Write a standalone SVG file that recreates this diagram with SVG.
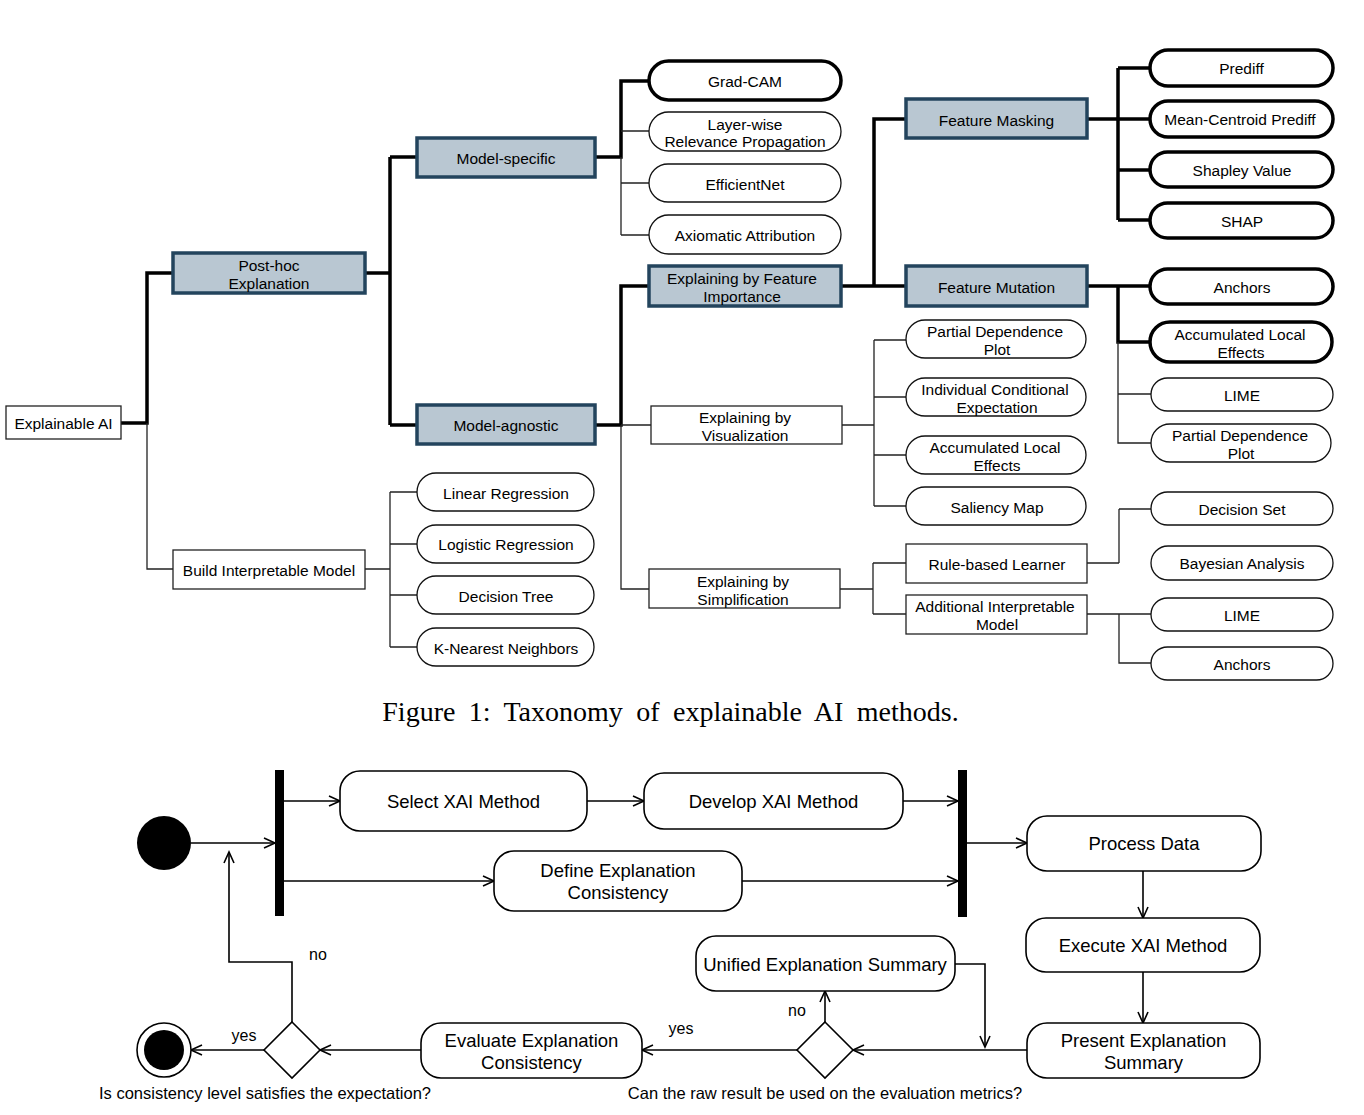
<svg xmlns="http://www.w3.org/2000/svg" width="1364" height="1115" viewBox="0 0 1364 1115">
<style>
text{font-family:"Liberation Sans",Arial,sans-serif;fill:#000;text-anchor:middle;dominant-baseline:central}
.t{font-size:15.5px}
.b{font-size:18.5px}
.l{font-size:16px}
.q{font-size:16.5px}
.box{fill:#fff;stroke:#222;stroke-width:1.3}
.blue{fill:#b9c7d2;stroke:#23445d;stroke-width:3.5}
.pill{fill:#fff;stroke:#111;stroke-width:1.3}
.pillk{fill:#fff;stroke:#000;stroke-width:3.5}
.thick{fill:none;stroke:#000;stroke-width:3.5}
.thin{fill:none;stroke:#222;stroke-width:1.3}
.act{fill:#fff;stroke:#000;stroke-width:1.6}
.flow{fill:none;stroke:#000;stroke-width:1.6;marker-end:url(#arr)}
.cap{font-family:"Liberation Serif","Times New Roman",serif;font-size:28px;word-spacing:6.4px}
</style>
<defs>
<marker id="arr" markerUnits="userSpaceOnUse" markerWidth="14" markerHeight="14" viewBox="0 0 14 14" refX="12" refY="6" orient="auto">
<path d="M1,1 L12,6 L1,11" fill="none" stroke="#000" stroke-width="1.6"/>
</marker>
</defs>

<g id="connectors">
<path class="thick" d="M121,423 H147 V273 H173"/>
<path class="thick" d="M365,273 H390 M390,157 V425 M390,157 H417 M390,425 H417"/>
<path class="thick" d="M595,157 H621 V81 H649"/>
<path class="thick" d="M595,425 H621 V286 H649"/>
<path class="thick" d="M841,286 H874 V119 H906 M874,286 H906"/>
<path class="thick" d="M1087,119 H1118 M1118,68 V220 M1118,68 H1150 M1118,119 H1150 M1118,170 H1150 M1118,220 H1150"/>
<path class="thick" d="M1087,286 H1150 M1118,286 V342 H1150"/>
<path class="thin" d="M147,423 V569 H173"/>
<path class="thin" d="M621,157 V235 M621,131 H649 M621,183 H649 M621,235 H649"/>
<path class="thin" d="M621,425 V589 H649 M621,425 H651"/>
<path class="thin" d="M842,425 H874 M874,340 V506 M874,340 H906 M874,397 H906 M874,455 H906 M874,506 H906"/>
<path class="thin" d="M840,589 H873 M873,563 V614 M873,563 H906 M873,614 H906"/>
<path class="thin" d="M1087,563 H1119 M1119,509 V563 M1119,509 H1151"/>
<path class="thin" d="M1087,614 H1151 M1119,614 V663 H1151"/>
<path class="thin" d="M1118,342 V443 H1151 M1118,394 H1151"/>
<path class="thin" d="M365,569 H390 M390,492 V647 M390,492 H417 M390,544 H417 M390,595 H417 M390,647 H417"/>

<path class="flow" d="M191,843 H275"/>
<path class="flow" d="M284,801 H340"/>
<path class="flow" d="M284,881 H494"/>
<path class="flow" d="M587,801 H644"/>
<path class="flow" d="M903,801 H958"/>
<path class="flow" d="M742,881 H958"/>
<path class="flow" d="M967,843 H1027"/>
<path class="flow" d="M1143,871 V918"/>
<path class="flow" d="M1143,972 V1023"/>
<path class="flow" d="M1027,1050 H853"/>
<path class="flow" d="M825,1022 V991"/>
<path class="flow" d="M955,964 H985 V1047"/>
<path class="flow" d="M797,1050 H642"/>
<path class="flow" d="M421,1050 H320"/>
<path class="flow" d="M264,1050 H191"/>
<path class="flow" d="M292,1022 V962 H229 V852"/>
<text class="l" x="318" y="954">no</text>
<text class="l" x="797" y="1010">no</text>
<text class="l" x="681" y="1028">yes</text>
<text class="l" x="244" y="1035">yes</text>
</g>

<g id="n-xai"><rect class="box" x="6" y="406" width="115" height="33"/><text class="t" x="63.5" y="423">Explainable AI</text></g>
<g id="n-posthoc"><rect class="blue" x="173" y="253" width="192" height="40"/><text class="t" x="269" y="265">Post-hoc</text><text class="t" x="269" y="283">Explanation</text></g>
<g id="n-build"><rect class="box" x="173" y="550" width="192" height="39"/><text class="t" x="269" y="570">Build Interpretable Model</text></g>
<g id="n-mspec"><rect class="blue" x="417" y="138" width="178" height="39"/><text class="t" x="506" y="158">Model-specific</text></g>
<g id="n-magn"><rect class="blue" x="417" y="405" width="178" height="39"/><text class="t" x="506" y="425">Model-agnostic</text></g>
<g id="n-gradcam"><rect class="pillk" x="649" y="61" width="192" height="39" rx="19.5"/><text class="t" x="745" y="81">Grad-CAM</text></g>
<g id="n-lrp"><rect class="pill" x="649" y="112" width="192" height="39" rx="19.5"/><text class="t" x="745" y="124">Layer-wise</text><text class="t" x="745" y="141">Relevance Propagation</text></g>
<g id="n-effnet"><rect class="pill" x="649" y="164" width="192" height="38" rx="19"/><text class="t" x="745" y="184">EfficientNet</text></g>
<g id="n-axiom"><rect class="pill" x="649" y="215" width="192" height="39" rx="19.5"/><text class="t" x="745" y="235">Axiomatic Attribution</text></g>
<g id="n-efi"><rect class="blue" x="649" y="266" width="192" height="40"/><text class="t" x="742" y="278">Explaining by Feature</text><text class="t" x="742" y="296">Importance</text></g>
<g id="n-evis"><rect class="box" x="651" y="406" width="191" height="38"/><text class="t" x="745" y="417">Explaining by</text><text class="t" x="745" y="435">Visualization</text></g>
<g id="n-esimp"><rect class="box" x="649" y="569" width="191" height="39"/><text class="t" x="743" y="581">Explaining by</text><text class="t" x="743" y="599">Simplification</text></g>
<g id="n-fmask"><rect class="blue" x="906" y="99" width="181" height="39"/><text class="t" x="996.5" y="120">Feature Masking</text></g>
<g id="n-fmut"><rect class="blue" x="906" y="266" width="181" height="40"/><text class="t" x="996.5" y="287">Feature Mutation</text></g>
<g id="n-prediff"><rect class="pillk" x="1150" y="50" width="183" height="36" rx="18"/><text class="t" x="1241.5" y="68">Prediff</text></g>
<g id="n-mcp"><rect class="pillk" x="1150" y="101" width="183" height="36" rx="18"/><text class="t" x="1240" y="119">Mean-Centroid Prediff</text></g>
<g id="n-shapley"><rect class="pillk" x="1150" y="152" width="183" height="35" rx="17.5"/><text class="t" x="1242" y="170">Shapley Value</text></g>
<g id="n-shap"><rect class="pillk" x="1150" y="203" width="183" height="35" rx="17.5"/><text class="t" x="1242" y="221">SHAP</text></g>
<g id="n-anchors1"><rect class="pillk" x="1150" y="269" width="183" height="35" rx="17.5"/><text class="t" x="1242" y="287">Anchors</text></g>
<g id="n-ale2"><rect class="pillk" x="1150" y="322" width="182" height="40" rx="20"/><text class="t" x="1240" y="334">Accumulated Local</text><text class="t" x="1241" y="352">Effects</text></g>
<g id="n-lime1"><rect class="pill" x="1151" y="378" width="182" height="33" rx="16.5"/><text class="t" x="1242" y="395">LIME</text></g>
<g id="n-pdp2"><rect class="pill" x="1151" y="424" width="180" height="38" rx="19"/><text class="t" x="1240" y="435">Partial Dependence</text><text class="t" x="1241" y="453">Plot</text></g>
<g id="n-pdp1"><rect class="pill" x="906" y="320" width="180" height="38" rx="19"/><text class="t" x="995" y="331">Partial Dependence</text><text class="t" x="997" y="349">Plot</text></g>
<g id="n-ice"><rect class="pill" x="906" y="378" width="180" height="38" rx="19"/><text class="t" x="995" y="389">Individual Conditional</text><text class="t" x="997" y="407">Expectation</text></g>
<g id="n-ale1"><rect class="pill" x="906" y="436" width="180" height="38" rx="19"/><text class="t" x="995" y="447">Accumulated Local</text><text class="t" x="997" y="465">Effects</text></g>
<g id="n-sal"><rect class="pill" x="906" y="487" width="180" height="38" rx="19"/><text class="t" x="997" y="507">Saliency Map</text></g>
<g id="n-rbl"><rect class="box" x="906" y="544" width="181" height="39"/><text class="t" x="997" y="564">Rule-based Learner</text></g>
<g id="n-aim"><rect class="box" x="906" y="595" width="181" height="39"/><text class="t" x="995" y="606">Additional Interpretable</text><text class="t" x="997" y="624">Model</text></g>
<g id="n-dset"><rect class="pill" x="1151" y="492" width="182" height="33" rx="16.5"/><text class="t" x="1242" y="509">Decision Set</text></g>
<g id="n-bayes"><rect class="pill" x="1151" y="546" width="182" height="34" rx="17"/><text class="t" x="1242" y="563">Bayesian Analysis</text></g>
<g id="n-lime2"><rect class="pill" x="1151" y="598" width="182" height="33" rx="16.5"/><text class="t" x="1242" y="615">LIME</text></g>
<g id="n-anchors2"><rect class="pill" x="1151" y="647" width="182" height="33" rx="16.5"/><text class="t" x="1242" y="664">Anchors</text></g>
<g id="n-linreg"><rect class="pill" x="417" y="473" width="177" height="38" rx="19"/><text class="t" x="506" y="493">Linear Regression</text></g>
<g id="n-logreg"><rect class="pill" x="417" y="525" width="177" height="38" rx="19"/><text class="t" x="506" y="544">Logistic Regression</text></g>
<g id="n-dtree"><rect class="pill" x="417" y="576" width="177" height="38" rx="19"/><text class="t" x="506" y="596">Decision Tree</text></g>
<g id="n-knn"><rect class="pill" x="417" y="628" width="177" height="38" rx="19"/><text class="t" x="506" y="648">K-Nearest Neighbors</text></g>

<text class="cap" x="670.5" y="711">Figure 1: Taxonomy of explainable AI methods.</text>

<g id="n-start"><circle cx="164" cy="843" r="27" fill="#000"/></g>
<g id="n-fork"><rect x="275" y="770" width="9" height="146" fill="#000"/></g>
<g id="n-join"><rect x="958" y="770" width="9" height="147" fill="#000"/></g>
<g id="n-select"><rect class="act" x="340" y="771" width="247" height="60" rx="20"/><text class="b" x="463.5" y="801">Select XAI Method</text></g>
<g id="n-develop"><rect class="act" x="644" y="773" width="259" height="56" rx="20"/><text class="b" x="773.5" y="801">Develop XAI Method</text></g>
<g id="n-define"><rect class="act" x="494" y="851" width="248" height="60" rx="20"/><text class="b" x="618" y="870">Define Explanation</text><text class="b" x="618" y="892">Consistency</text></g>
<g id="n-process"><rect class="act" x="1027" y="816" width="234" height="55" rx="20"/><text class="b" x="1144" y="843">Process Data</text></g>
<g id="n-execute"><rect class="act" x="1026" y="918" width="234" height="54" rx="20"/><text class="b" x="1143" y="945">Execute XAI Method</text></g>
<g id="n-present"><rect class="act" x="1027" y="1023" width="233" height="55" rx="20"/><text class="b" x="1143.5" y="1040">Present Explanation</text><text class="b" x="1143.5" y="1062">Summary</text></g>
<g id="n-unified"><rect class="act" x="696" y="936" width="259" height="55" rx="20"/><text class="b" x="825" y="964">Unified Explanation Summary</text></g>
<g id="n-evaluate"><rect class="act" x="421" y="1023" width="221" height="55" rx="20"/><text class="b" x="531.5" y="1040">Evaluate Explanation</text><text class="b" x="531.5" y="1062">Consistency</text></g>
<g id="n-dec2"><path class="act" d="M825,1022 L853,1050 L825,1078 L797,1050 Z"/><text class="q" x="825" y="1093">Can the raw result be used on the evaluation metrics?</text></g>
<g id="n-dec1"><path class="act" d="M292,1022 L320,1050 L292,1078 L264,1050 Z"/><text class="q" x="265" y="1093">Is consistency level satisfies the expectation?</text></g>
<g id="n-end"><circle cx="164" cy="1050" r="27" fill="#fff" stroke="#000" stroke-width="1.6"/><circle cx="164" cy="1050" r="20" fill="#000"/></g>
</svg>
